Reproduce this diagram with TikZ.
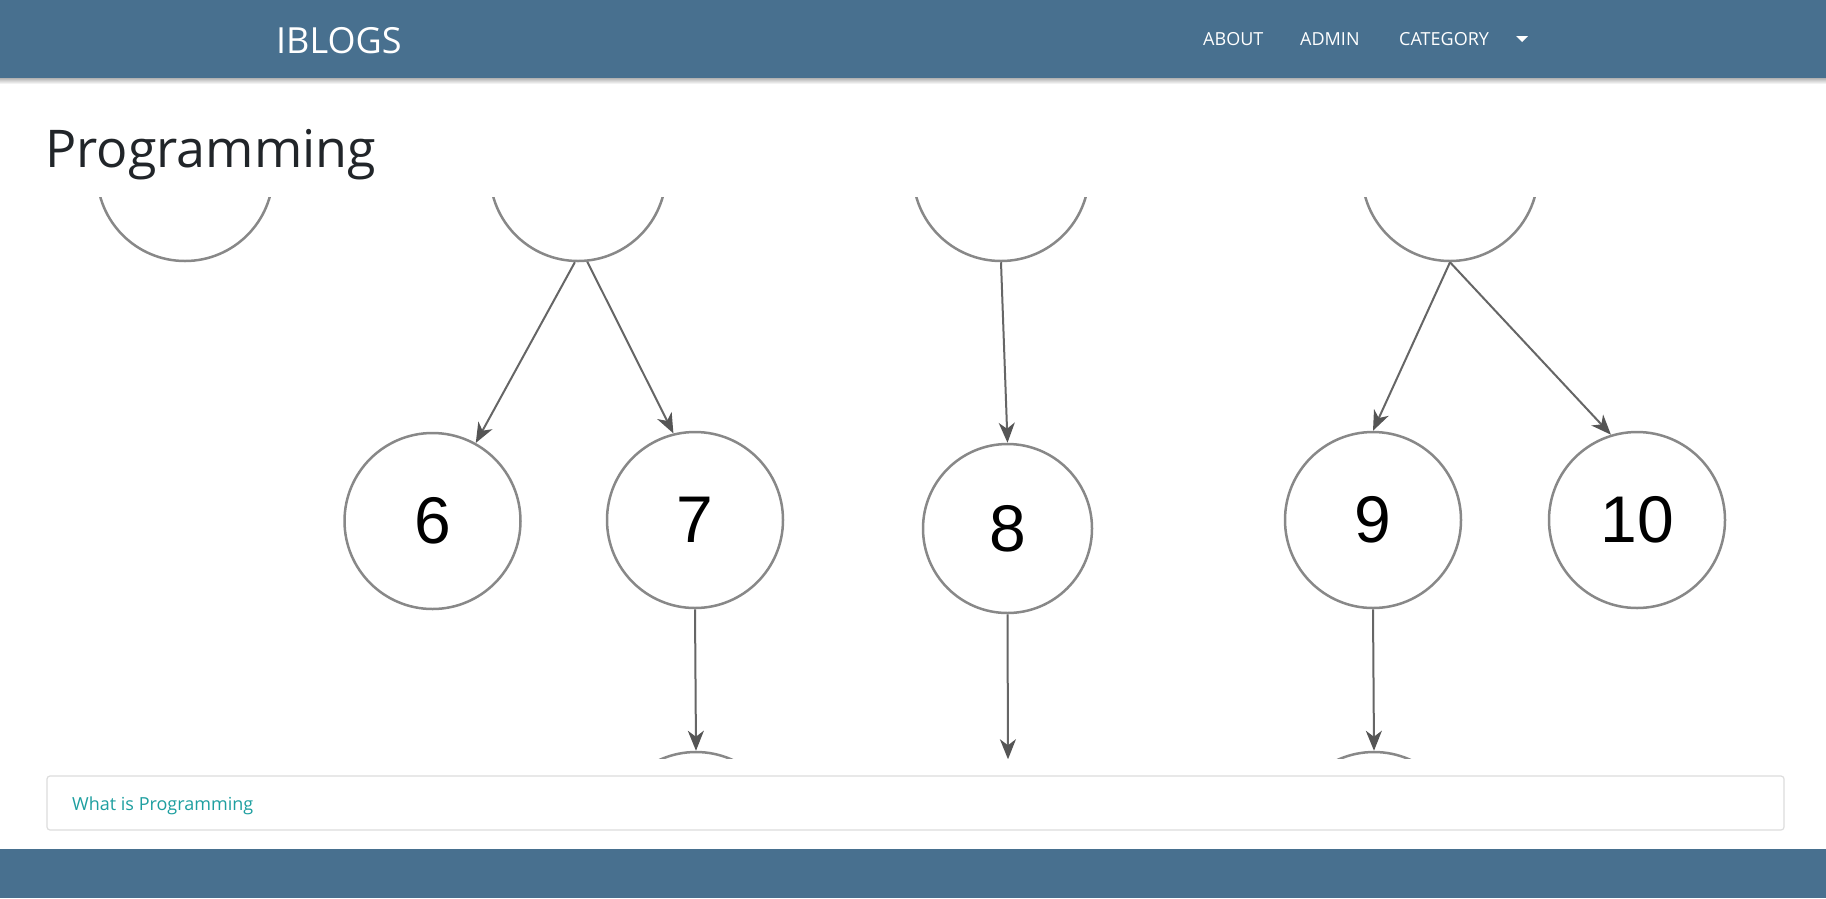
\documentclass[tikz,border=0pt]{standalone}
\usepackage{fontspec}
\setmainfont{Open Sans}
\newfontfamily\arialf{Liberation Sans}
\usetikzlibrary{arrows.meta}
\definecolor{hdr}{HTML}{48708F}
\definecolor{circ}{HTML}{888888}
\definecolor{edge}{HTML}{666666}
\definecolor{tipc}{HTML}{555555}
\definecolor{cardline}{HTML}{DDDDDD}
\definecolor{linkc}{HTML}{1E9FA0}
\definecolor{titlec}{HTML}{212529}
\tikzset{
  bignode/.style={circle, draw=circ, line width=2.5pt, fill=white, minimum size=176pt, inner sep=0pt,
    font=\arialf\fontsize{66}{70}\selectfont, text=black},
  midnode/.style={bignode, minimum size=169pt},
  edgearrow/.style={draw=edge, line width=2pt, -{Stealth[length=20pt, width=16pt, inset=6pt, color=tipc]}},
  navtext/.style={anchor=base west, inner sep=0pt, text=white, font=\fontsize{18}{20}\selectfont},
}
\begin{document}
\begin{tikzpicture}[x=1pt,y=-1pt]
\useasboundingbox (0,0) rectangle (1826,898);
\fill[white] (0,0) rectangle (1826,898);
% header
\shade[top color=black!30, bottom color=white] (0,78) rectangle (1826,84);
\fill[hdr] (0,0) rectangle (1826,78);
\node[anchor=base west, inner sep=0pt, text=white, font=\fontsize{36}{40}\selectfont] (brand) at (276,53) {IBLOGS};
\node[navtext] (about) at (1203,45) {ABOUT};
\node[navtext] (admin) at (1300,45) {ADMIN};
\node[navtext] (category) at (1399,45) {CATEGORY};
\fill[white] (1516,36) -- (1528,36) -- (1522,42) -- cycle;
% title
\node[anchor=base west, inner sep=0pt, text=titlec, font=\fontsize{52}{58}\selectfont] (title) at (45,167) {Programming};
% diagram
\begin{scope}
\clip (47,197) rectangle (1784,758);
\node[bignode] (t1) at (185,173) {};
\node[bignode] (t2) at (578,173) {};
\node[bignode] (t3) at (1001,173) {};
\node[bignode] (t4) at (1450,173) {};
\node[bignode] (n6) at (432.5,521) {6};
\node[bignode] (n7) at (695,520) {7};
\node[midnode] (n8) at (1007.5,528.5) {8};
\node[bignode] (n9) at (1373,520) {9};
\node[bignode] (n10) at (1637,520) {10};
\node[bignode] (b7) at (696,840) {};
\node[midnode] (b8) at (1008,845) {};
\node[bignode] (b9) at (1374,840) {};
\draw[edgearrow] (t2.268) -- (n6.61);
\draw[edgearrow] (t2.276) -- (n7.104);
\draw[edgearrow] (t3.south) -- (n8.north);
\draw[edgearrow] (t4.south) -- (n9.north);
\draw[edgearrow] (t4.south) -- (n10.107);
\draw[edgearrow] (n7.south) -- (b7.north);
\draw[edgearrow] (n8.south) -- (b8.north);
\draw[edgearrow] (n9.south) -- (b9.north);
\end{scope}
% card
\draw[cardline, line width=1.2pt, rounded corners=3pt] (47,776) rectangle (1784,830);
\node[anchor=base west, inner sep=0pt, text=linkc, font=\fontsize{18}{20}\selectfont] (link) at (72,810) {What is Programming};
% footer
\fill[hdr] (0,849) rectangle (1826,898);
\end{tikzpicture}
\end{document}
